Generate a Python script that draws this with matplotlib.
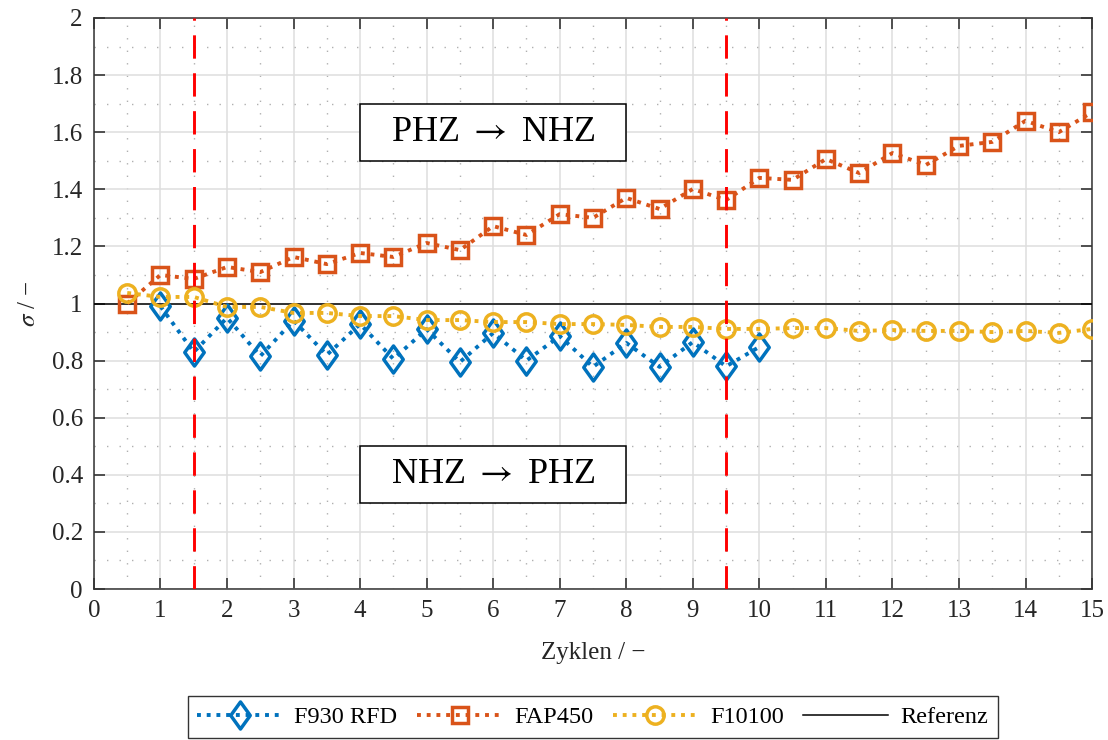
import numpy as np
import matplotlib
matplotlib.use("Agg")
import matplotlib.pyplot as plt
from matplotlib.path import Path
from matplotlib.patches import Rectangle
from matplotlib.ticker import MultipleLocator

plt.rcParams["font.family"] = ["Liberation Serif", "DejaVu Serif"]
plt.rcParams["mathtext.fontset"] = "stix"

# cycle positions (half cycles)
x_rfd = np.arange(1, 10.5, 0.5)
x_fap = np.arange(0.5, 15.5, 0.5)
x_f10 = np.arange(0.5, 15.5, 0.5)

rfd = [0.99, 0.83, 0.95, 0.816, 0.94, 0.82, 0.928, 0.806, 0.91, 0.795,
       0.897, 0.80, 0.886, 0.778, 0.862, 0.778, 0.865, 0.78, 0.848]
fap = [1.0, 1.10, 1.086, 1.128, 1.11, 1.163, 1.138, 1.177, 1.163, 1.212,
       1.187, 1.271, 1.24, 1.313, 1.30, 1.37, 1.331, 1.401, 1.362, 1.44,
       1.433, 1.506, 1.457, 1.527, 1.485, 1.552, 1.566, 1.64, 1.60, 1.67]
f10 = [1.037, 1.023, 1.023, 0.988, 0.988, 0.967, 0.967, 0.956, 0.956, 0.942,
       0.942, 0.935, 0.935, 0.928, 0.928, 0.925, 0.918, 0.918, 0.911, 0.911,
       0.914, 0.914, 0.904, 0.907, 0.904, 0.904, 0.90, 0.904, 0.897, 0.911]

switch_x = [1.5, 9.5]
y_labels = ["0", "0.2", "0.4", "0.6", "0.8", "1", "1.2", "1.4", "1.6", "1.8", "2"]

c_blue = "#0072BD"
c_orange = "#D95319"
c_yellow = "#EDB120"
txt_col = "#262626"

# MATLAB-like diamond (taller than wide)
diamond = Path([(0, 1), (0.72, 0), (0, -1), (-0.72, 0), (0, 1)],
               [Path.MOVETO, Path.LINETO, Path.LINETO, Path.LINETO, Path.CLOSEPOLY])
dots = (0, (1, 1.5))

fig = plt.figure(figsize=(11.08, 7.4), dpi=100)
ax = fig.add_axes([0.0848, 0.204, 0.9008, 0.7717])

ax.plot(x_rfd, rfd, ls=dots, lw=2.8, color=c_blue, marker=diamond, ms=19.5,
        mfc="none", mew=2.5, label="F930 RFD", zorder=4)
ax.plot(x_fap, fap, ls=dots, lw=2.8, color=c_orange, marker="s", ms=11,
        mfc="none", mew=2.5, label="FAP450", zorder=4)
ax.plot(x_f10, f10, ls=dots, lw=2.8, color=c_yellow, marker="o", ms=12.5,
        mfc="none", mew=2.5, label="F10100", zorder=4)
ax.axhline(1, color="black", lw=1.1, label="Referenz", zorder=3)

for xs in switch_x:
    ax.axvline(xs, color="red", lw=2.1, ls=(0, (8, 5)), zorder=5)

# direction boxes
for (yc, txt) in [(1.6, r"PHZ $\rightarrow$ NHZ"), (0.4, r"NHZ $\rightarrow$ PHZ")]:
    ax.add_patch(Rectangle((4, yc - 0.1), 4, 0.2, fc="white", ec="black", lw=1.1, zorder=6))
    ax.text(6, yc, txt, fontsize=26, ha="center", va="center", zorder=7)

ax.set_xlim(0, 15)
ax.set_ylim(0, 2)
ax.xaxis.set_major_locator(MultipleLocator(1))
ax.xaxis.set_minor_locator(MultipleLocator(0.5))
ax.yaxis.set_minor_locator(MultipleLocator(0.1))
ax.set_yticks(np.arange(0, 2.01, 0.2))
ax.set_yticklabels(y_labels)

ax.grid(which="major", color="#dedede", lw=1.1, zorder=0)
ax.grid(which="minor", color="#b0b0b0", lw=1.0, ls=(0, (1, 8)), zorder=0)
ax.set_axisbelow(True)
ax.tick_params(which="major", direction="in", length=8, width=1.1, top=True, right=True,
               labelsize=18, colors=txt_col, pad=8)
ax.tick_params(which="minor", length=0)
for s in ax.spines.values():
    s.set_color("#333333")
    s.set_linewidth(1.1)

ax.set_xlabel("Zyklen / −", fontsize=18, color=txt_col, labelpad=14)
ax.set_ylabel(r"$\sigma$ / −", fontsize=18, color=txt_col, labelpad=8)

leg = ax.legend(loc="center", bbox_to_anchor=(0.535, 0.031), bbox_transform=fig.transFigure,
                ncol=4, fontsize=17.5, frameon=True, fancybox=False, edgecolor="black",
                handlelength=3.5, handletextpad=0.5, columnspacing=0.8, borderpad=0.4,
                borderaxespad=0)
leg.get_frame().set_linewidth(1.0)

fig.savefig("out.png", dpi=100)
